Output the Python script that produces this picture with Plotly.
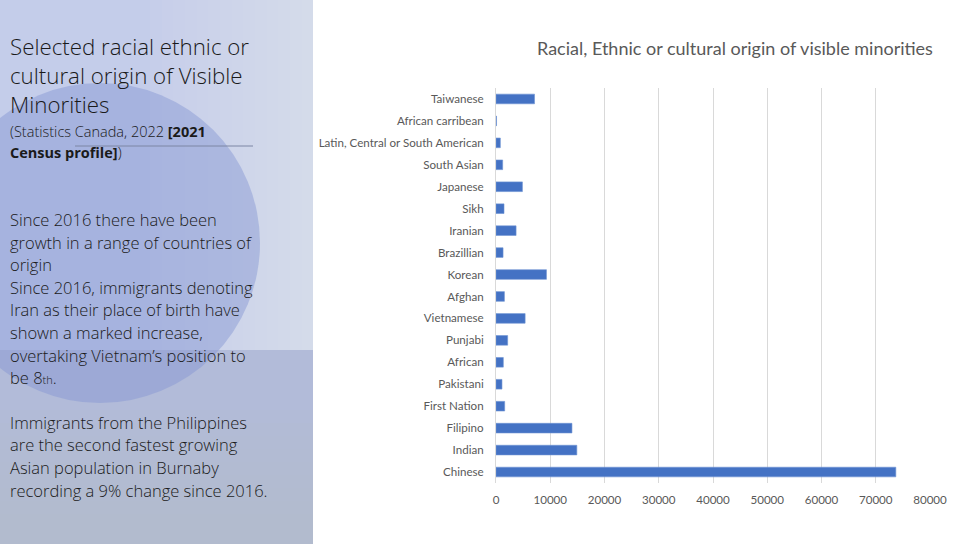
import plotly.graph_objects as go

W, H = 960, 544

categories = ["Chinese", "Indian", "Filipino", "First Nation", "Pakistani", "African",
              "Punjabi", "Vietnamese", "Afghan", "Korean", "Brazillian", "Iranian",
              "Sikh", "Japanese", "South Asian", "Latin, Central or South American",
              "African carribean", "Taiwanese"]
values = [73700, 14900, 14000, 1600, 1100, 1350, 2150, 5370, 1550, 9300, 1300, 3700,
          1480, 4870, 1230, 800, 100, 7100]
x_ticks = [0, 10000, 20000, 30000, 40000, 50000, 60000, 70000, 80000]

chart_title = "Racial, Ethnic or cultural origin of visible minorities"
title_lines = ["Selected racial ethnic or", "cultural origin of Visible", "Minorities"]
source_lines = ["(Statistics Canada, 2022 <b>[2021</b>", "<b>Census profile]</b>)"]
body_lines = ["Since 2016 there have been", "growth in a range of countries of", "origin",
              "Since 2016, immigrants denoting", "Iran as their place of birth have",
              "shown a marked increase,", "overtaking Vietnam’s position to",
              "be 8<span style='font-size:11px'>th</span>.", "",
              "Immigrants from the Philippines", "are the second fastest growing",
              "Asian population in Burnaby", "recording a 9% change since 2016."]

CHART_FONT = "Lato"
PANEL_FONT = "Open Sans"

def px(x):
    return x / W

def py(y):
    return 1 - y / H

fig = go.Figure()
fig.add_trace(go.Bar(
    x=values, y=categories, orientation="h",
    marker=dict(color="#4472c4", line=dict(color="#6f93d3", width=0.6)),
    hoverinfo="x+y",
))

BAND = 350
shapes = []
shapes.append(dict(type="rect", xref="paper", yref="paper", x0=0, x1=px(313), y0=py(BAND), y1=1,
                   fillcolor="#c4cdea", line=dict(width=0), layer="below"))
n = 14
for i in range(n):
    x0 = 150 + i * (163 / n)
    shapes.append(dict(type="rect", xref="paper", yref="paper", x0=px(x0), x1=px(313),
                       y0=py(BAND), y1=1, fillcolor="white", opacity=0.035,
                       line=dict(width=0), layer="below"))
shapes.append(dict(type="rect", xref="paper", yref="paper", x0=0, x1=px(313), y0=0, y1=py(BAND),
                   fillcolor="#b2bbd9", line=dict(width=0), layer="below"))
for i in range(10):
    y0 = 410 + i * 13
    shapes.append(dict(type="rect", xref="paper", yref="paper", x0=0, x1=px(313),
                       y0=0, y1=py(y0), fillcolor="#b8bccb", opacity=0.12,
                       line=dict(width=0), layer="below"))
cx, cy, r = 100, 243, 160
shapes.append(dict(type="circle", xref="paper", yref="paper",
                   x0=px(cx - r), x1=px(cx + r), y0=py(cy + r), y1=py(cy - r),
                   fillcolor="#8395d2", opacity=0.45, line=dict(width=0), layer="below"))
shapes.append(dict(type="line", xref="paper", yref="paper", x0=px(75), x1=px(253),
                   y0=py(146), y1=py(146), line=dict(color="#7c86a4", width=1)))

annotations = []
for t, y in zip(title_lines, [46, 76, 105]):
    annotations.append(dict(text=t, x=px(8), y=py(y), xref="paper", yref="paper",
                            xanchor="left", yanchor="middle", showarrow=False,
                            font=dict(family=PANEL_FONT, size=22.3, color="#1a1a1a", weight=300)))
for t, y in zip(source_lines, [131, 152]):
    annotations.append(dict(text=t, x=px(8), y=py(y), xref="paper", yref="paper",
                            xanchor="left", yanchor="middle", showarrow=False,
                            font=dict(family=PANEL_FONT, size=14.5, color="#1a1a1a", weight=350)))
by = [219, 242, 264, 287, 309, 332, 355, 377, 400, 422, 444, 467, 490]
for t, y in zip(body_lines, by):
    if t:
        annotations.append(dict(text=t, x=px(8), y=py(y), xref="paper", yref="paper",
                                xanchor="left", yanchor="middle", showarrow=False,
                                font=dict(family=PANEL_FONT, size=16.5, color="#1a1a1a", weight=300)))
annotations.append(dict(text=chart_title, x=px(735), y=py(48), xref="paper", yref="paper",
                        xanchor="center", yanchor="middle", showarrow=False,
                        font=dict(family=CHART_FONT, size=18, color="#595959")))

fig.update_layout(
    width=W, height=H,
    margin=dict(l=0, r=0, t=0, b=0),
    paper_bgcolor="white", plot_bgcolor="rgba(0,0,0,0)",
    showlegend=False,
    bargap=0.56,
    shapes=shapes,
    annotations=annotations,
    font=dict(family=CHART_FONT, color="#595959", size=11),
)
fig.update_xaxes(
    domain=[px(496), px(930)], range=[0, 80000], tickvals=x_ticks,
    ticktext=[str(v) for v in x_ticks],
    showgrid=True, gridcolor="#d9d9d9", gridwidth=1, zeroline=False,
    showline=False, ticks="outside", ticklen=6, tickcolor="rgba(0,0,0,0)",
    tickfont=dict(family=CHART_FONT, size=11.6, color="#595959"), automargin=False,
)
fig.update_yaxes(
    domain=[py(483), py(88)], categoryorder="array", categoryarray=categories,
    showgrid=False, zeroline=False, showline=True, linecolor="#d9d9d9", linewidth=1,
    ticks="outside", ticklen=9, tickcolor="rgba(0,0,0,0)",
    tickfont=dict(family=CHART_FONT, size=11.6, color="#595959"), automargin=False,
)

fig.write_html("out.html")
